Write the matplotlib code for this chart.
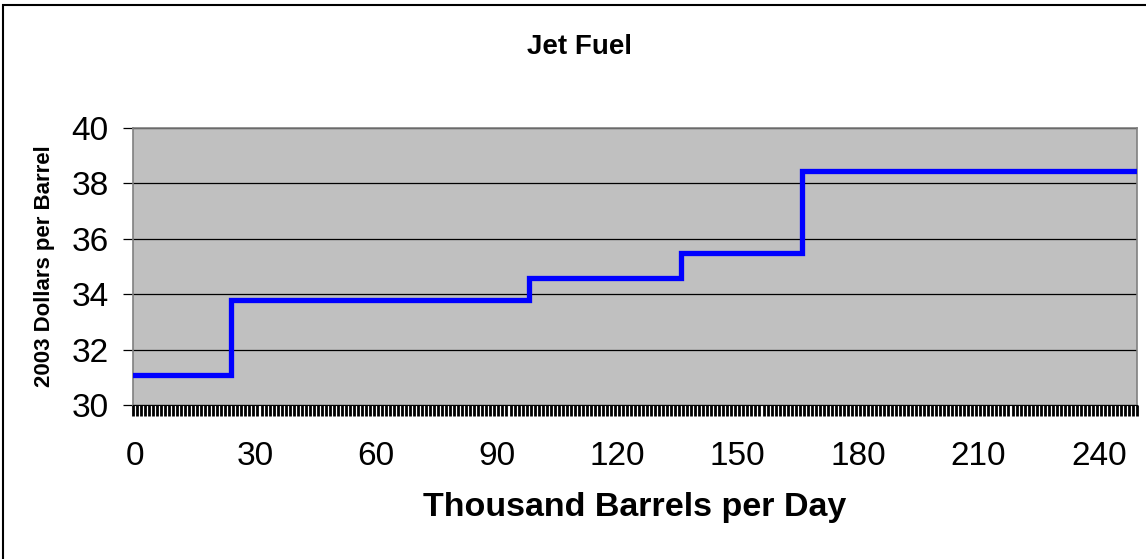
import matplotlib.pyplot as plt
from matplotlib.patches import Rectangle
from matplotlib.ticker import FixedLocator
import numpy as np

plt.rcParams['font.family'] = ['Liberation Sans', 'DejaVu Sans']

# supply curve: price level holds until the next break (thousand barrels per day)
n_cats = 250
breaks = [24, 98, 136, 166]
prices = [31.1, 33.8, 34.6, 35.5, 38.45]
x_ticks = [0, 30, 60, 90, 120, 150, 180, 210, 240]
y_ticks = [30, 32, 34, 36, 38, 40]

fig = plt.figure(figsize=(11.46, 5.59), dpi=100)
ax = fig.add_axes([133 / 1146, 1 - 405 / 559, 1004 / 1146, 277 / 559])
ax.set_facecolor('#C0C0C0')

xs = [-0.5] + breaks + [n_cats - 0.5]
ys = prices + [prices[-1]]
ax.step(xs, ys, where='post', color='#0000FF', lw=3.8, solid_joinstyle='miter', zorder=3)

ax.set_xlim(-0.5, n_cats - 0.5)
ax.set_ylim(30, 40)
ax.set_yticks(y_ticks)
ax.set_xticks(x_ticks)
ax.xaxis.set_minor_locator(FixedLocator(np.arange(n_cats + 1) - 0.5))
ax.grid(axis='y', color='black', lw=0.9, zorder=1)
ax.set_axisbelow(True)

ax.tick_params(axis='y', direction='out', length=7.5, width=0.9, color='black',
               labelsize=24, pad=10)
ax.tick_params(axis='x', which='major', length=0, labelsize=24, pad=26)
ax.tick_params(axis='x', which='minor', direction='out', length=8, width=2.0, color='black')

for side in ['top', 'right', 'left']:
    ax.spines[side].set_color('#808080')
    ax.spines[side].set_linewidth(1.2)
ax.spines['bottom'].set_color('black')

ax.set_xlabel('Thousand Barrels per Day', fontsize=24.5, fontweight='bold', labelpad=14)
ax.set_ylabel('2003 Dollars per Barrel', fontsize=16, fontweight='bold', labelpad=12)
fig.text(0.506, 1 - 47 / 559, 'Jet Fuel', ha='center', va='center',
         fontsize=20, fontweight='bold')

# outer chart border
fig.patches.append(Rectangle((3 / 1146, -0.1), 1.2, 1 - 5 / 559 + 0.1,
                             transform=fig.transFigure, fill=False,
                             edgecolor='black', lw=1.5))

fig.savefig('out.png', dpi=100)
